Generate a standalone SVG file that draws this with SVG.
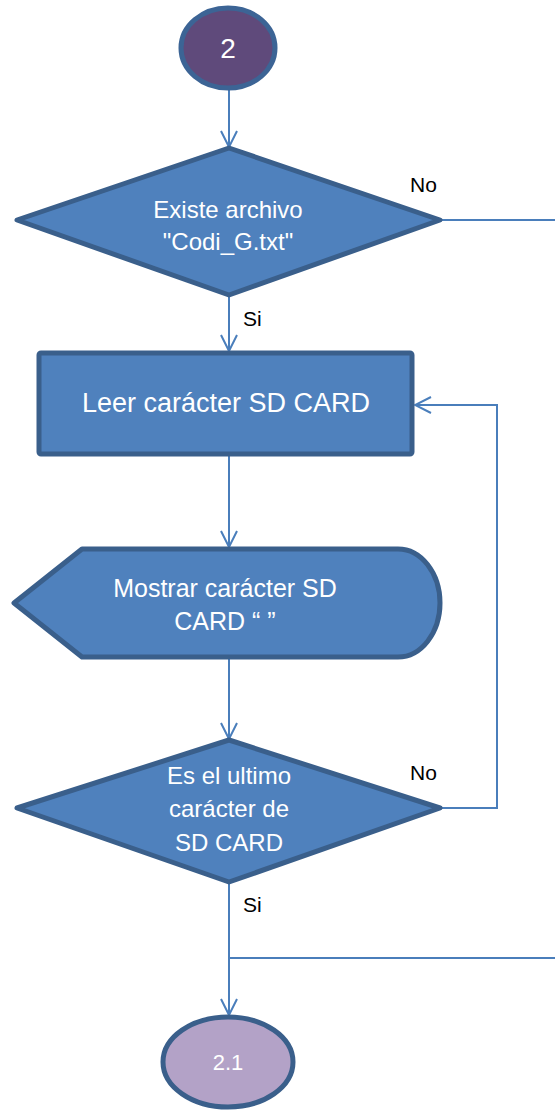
<svg xmlns="http://www.w3.org/2000/svg" width="555" height="1110" viewBox="0 0 555 1110">
<style>
.shape{fill:#4F81BD;stroke:#3A5F8B;stroke-width:5;stroke-linejoin:round}
.t{font-family:"Liberation Sans",Arial,sans-serif;fill:#FFFFFF;text-anchor:middle}
.lbl{font-family:"Liberation Sans",Arial,sans-serif;fill:#000000;font-size:21px}
.conn{fill:none;stroke:#4A7EBB;stroke-width:2}
</style>
<defs>
<marker id="arr" markerUnits="userSpaceOnUse" markerWidth="18" markerHeight="18" viewBox="0 0 18 18" refX="17" refY="9" orient="auto">
<path d="M1,1 L17,9 L1,17" fill="none" stroke="#4A7EBB" stroke-width="2"/>
</marker>
</defs>
<rect width="555" height="1110" fill="#FFFFFF"/>
<g id="connectors">
<line class="conn" x1="229" y1="89" x2="229" y2="147" marker-end="url(#arr)"/>
<line class="conn" x1="440" y1="220" x2="555" y2="220"/>
<line class="conn" x1="229" y1="295" x2="229" y2="351" marker-end="url(#arr)"/>
<line class="conn" x1="229" y1="455" x2="229" y2="547" marker-end="url(#arr)"/>
<line class="conn" x1="229" y1="658" x2="229" y2="739" marker-end="url(#arr)"/>
<polyline class="conn" points="440,808 497,808 497,405 415,405" marker-end="url(#arr)"/>
<line class="conn" x1="229" y1="882" x2="229" y2="1015" marker-end="url(#arr)"/>
<line class="conn" x1="229" y1="958" x2="555" y2="958"/>
<text class="lbl" x="410" y="192">No</text>
<text class="lbl" x="243" y="326">Si</text>
<text class="lbl" x="410" y="780">No</text>
<text class="lbl" x="243" y="912">Si</text>
</g>
<g id="start">
<ellipse cx="228" cy="48" rx="47" ry="40" fill="#5F4A7B" stroke="#3C6495" stroke-width="5"/>
<text class="t" x="228" y="58" font-size="28">2</text>
</g>
<g id="decision1">
<polygon class="shape" points="229,148 440,220 229,295 17,220"/>
<text class="t" x="228" y="218" font-size="24">Existe archivo</text>
<text class="t" x="228" y="250" font-size="24">"Codi_G.txt"</text>
</g>
<g id="read">
<rect class="shape" x="39" y="353" width="373" height="101" rx="2"/>
<text class="t" x="226" y="412" font-size="27">Leer carácter SD CARD</text>
</g>
<g id="display">
<path class="shape" d="M14,603 L82,549 L398,549 A42,54 0 0 1 398,657 L82,657 Z"/>
<text class="t" x="225" y="597" font-size="25">Mostrar carácter SD</text>
<text class="t" x="225" y="630" font-size="25">CARD “ ”</text>
</g>
<g id="decision2">
<polygon class="shape" points="229,740 440,808 229,882 17,808"/>
<text class="t" x="229" y="784" font-size="24">Es el ultimo</text>
<text class="t" x="229" y="817" font-size="24">carácter de</text>
<text class="t" x="229" y="851" font-size="24">SD CARD</text>
</g>
<g id="end">
<ellipse cx="228" cy="1062" rx="65" ry="45" fill="#B3A2C7" stroke="#3A5F8B" stroke-width="5"/>
<text class="t" x="228" y="1070" font-size="22">2.1</text>
</g>
</svg>
